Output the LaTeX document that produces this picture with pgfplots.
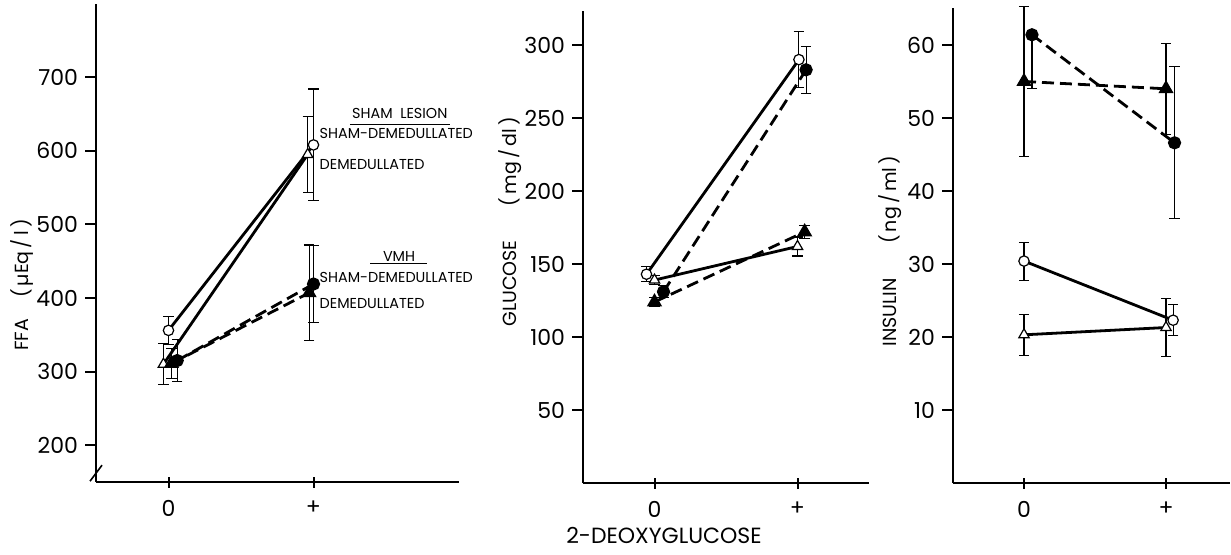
\documentclass[border=0pt]{standalone}
\usepackage{pgfplots}
\pgfplotsset{compat=1.18}
\usepackage{fontspec}
\setmainfont{Poppins}

\pgfplotsset{
  panel/.style={
    axis lines=left,
    axis line style={-, line width=1.2pt},
    every tick/.style={black, line width=1pt},
    major tick length=5.5pt,
    ytick align=outside,
    xtick align=center,
    xtick={0,1},
    xticklabels={0,+},
    xticklabel style={yshift=-3pt},
    tick label style={font=\fontsize{11}{13}\selectfont},
    /pgf/number format/assume math mode=true,
    clip=false,
    anchor=south west,
  },
  sham/.style={black, line width=1.4pt, solid},
  vmh/.style={black, line width=1.4pt, dash pattern=on 6pt off 3pt},
  opencirc/.style={mark=*, mark size=2.6pt, mark options={solid, fill=white, line width=0.6pt}},
  opentri/.style={mark=triangle*, mark size=3pt, mark options={solid, fill=white, line width=0.6pt}},
  fillcirc/.style={mark=*, mark size=2.6pt, mark options={solid, fill=black}},
  filltri/.style={mark=triangle*, mark size=3pt, mark options={solid, fill=black}},
  ebar/.style={error bars/.cd, y dir=both, y explicit,
    error bar style={solid, line width=0.55pt},
    error mark options={rotate=90, mark size=2.6pt, line width=0.55pt, solid}},
}

\begin{document}
\begin{tikzpicture}
\path[use as bounding box] (0pt,0pt) rectangle (615.5pt,-277.5pt);

% ---- FFA ----
\begin{axis}[panel, at={(48pt,-241pt)},
  x=72.5pt, y=0.368pt, xmin=-0.5, xmax=2, ymin=150, ymax=800,
  ytick={200,300,400,500,600,700}]
\addplot[sham, opencirc, ebar] coordinates {(0,356) +- (0,19) (1.0,608) +- (0,76)};
\addplot[sham, opentri, ebar] coordinates {(-0.035,310) +- (0,28) (0.96,595) +- (0,52)};
\addplot[vmh, filltri, ebar] coordinates {(0.02,311) +- (0,20) (0.97,407) +- (0,65)};
\addplot[vmh, fillcirc, ebar] coordinates {(0.06,315) +- (0,29) (1.0,419) +- (0,52)};
\draw[line width=0.8pt] (axis cs:-0.5,162) ++(-3pt,-4pt) -- ++(6pt,8pt);
\node[font=\fontsize{7.2}{8}\selectfont, inner sep=1pt] (sl) at (axis cs:1.595,651) {SHAM\ \ LESION};
\draw[line width=0.6pt] (axis cs:1.25,636) -- (axis cs:1.94,636);
\node[font=\fontsize{7.2}{8}\selectfont, anchor=west, inner sep=0pt] at (axis cs:1.04,623) {SHAM-DEMEDULLATED};
\node[font=\fontsize{7.2}{8}\selectfont, anchor=west, inner sep=0pt] at (axis cs:1.04,582) {DEMEDULLATED};
\node[font=\fontsize{7.2}{8}\selectfont, inner sep=1pt] at (axis cs:1.59,456) {VMH};
\draw[line width=0.6pt] (axis cs:1.39,447) -- (axis cs:1.78,447);
\node[font=\fontsize{7.2}{8}\selectfont, anchor=west, inner sep=0pt] at (axis cs:1.04,428) {SHAM-DEMEDULLATED};
\node[font=\fontsize{7.2}{8}\selectfont, anchor=west, inner sep=0pt] at (axis cs:1.04,392) {DEMEDULLATED};
\end{axis}

% ---- GLUCOSE ----
\begin{axis}[panel, at={(291.5pt,-241.5pt)},
  x=71.5pt, y=0.73pt, xmin=-0.5, xmax=1.5, ymin=0, ymax=323,
  ytick={50,100,150,200,250,300}]
\addplot[sham, opencirc, ebar] coordinates {(-0.056,143) +- (0,5) (1.01,290) +- (0,19)};
\addplot[sham, opentri, ebar] coordinates {(0,139) +- (0,3) (1.0,162) +- (0,6.5)};
\addplot[vmh, fillcirc, ebar] coordinates {(0.063,131) +- (0,4) (1.06,283) +- (0,16)};
\addplot[vmh, filltri, ebar] coordinates {(0,124) +- (0,3) (1.05,172) +- (0,4.5)};
\end{axis}

% ---- INSULIN ----
\begin{axis}[panel, at={(476.5pt,-241.5pt)},
  x=71pt, y=3.65pt, xmin=-0.5, xmax=1.45, ymin=0, ymax=65,
  ytick={10,20,30,40,50,60}]
\addplot[sham, opencirc, ebar] coordinates {(0,30.4) +- (0,2.6) (1.05,22.3) +- (0,2.1)};
\addplot[sham, opentri, ebar] coordinates {(0,20.3) +- (0,2.8) (1.0,21.3) +- (0,4)};
\addplot[vmh, filltri, ebar] coordinates {(0,55) +- (0,10.3) (1.0,54) +- (0,6.2)};
\addplot[vmh, fillcirc, ebar] coordinates {(0.056,61.4) += (0,0) -= (0,7.4) (1.06,46.6) +- (0,10.4)};
\end{axis}

% axis titles
\node[rotate=90, font=\fontsize{9.5}{11}\selectfont] at (11pt,-142.5pt) {FFA\hspace{1.1em}(\,µEq\,/\,l\,)};
\node[rotate=90, font=\fontsize{9.5}{11}\selectfont] at (255pt,-111pt) {GLUCOSE\hspace{1.8em}(\,mg\,/\,dl\,)};
\node[rotate=90, font=\fontsize{9.5}{11}\selectfont] at (445pt,-125.5pt) {INSULIN\hspace{1.8em}(\,ng\,/\,ml\,)};
\node[font=\fontsize{11}{13}\selectfont] at (332pt,-267.5pt) {2-DEOXYGLUCOSE};
\end{tikzpicture}
\end{document}
